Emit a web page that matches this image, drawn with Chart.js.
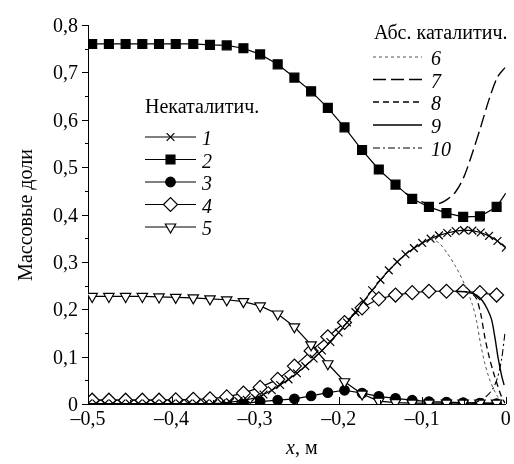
<!DOCTYPE html>
<html lang="ru">
<head>
<meta charset="utf-8">
<script src="https://cdn.jsdelivr.net/npm/chart.js@4/dist/chart.umd.min.js"></script>
<style>
  html, body { margin: 0; padding: 0; background: #fff; }
  #wrap { position: relative; width: 514px; height: 464px; overflow: hidden; }
  #chart { position: absolute; left: 0; top: 0; display: block; }
  #labels { position: absolute; left: 0; top: 0; width: 514px; height: 464px; pointer-events: none; }
  .lbl { position: absolute; font-family: 'Liberation Serif', 'Times New Roman', Times, 'DejaVu Serif', serif;
         font-size: 20px; line-height: 20px; white-space: nowrap; color: #000; }
  .lbl i { font-style: italic; }
</style>
</head>
<body>
<div id="wrap">
  <canvas id="chart" width="514" height="464"></canvas>
  <div id="labels"></div>
</div>
<script>
// ---- data ----
// marker positions shared by series 2..5
const xMarks = [-0.495, -0.475, -0.455, -0.435, -0.415, -0.395, -0.374, -0.354, -0.334, -0.314,
  -0.294, -0.273, -0.253, -0.233, -0.213, -0.193, -0.172, -0.152, -0.132, -0.112,
  -0.092, -0.071, -0.051, -0.031, -0.011];

// series 1 (crosses) has a denser set of markers
const x1 = [-0.50, -0.49, -0.48, -0.47, -0.46, -0.45, -0.44, -0.43, -0.42, -0.41,
  -0.40, -0.39, -0.38, -0.37, -0.36, -0.35, -0.34, -0.33, -0.32, -0.31,
  -0.30, -0.29, -0.28, -0.27, -0.26, -0.25, -0.24, -0.23, -0.22, -0.21,
  -0.20, -0.19, -0.18, -0.17, -0.16, -0.15, -0.14, -0.13, -0.12, -0.11,
  -0.10, -0.09, -0.08, -0.07, -0.06, -0.05, -0.04, -0.03, -0.02, -0.01, 0];
const s1 = [0.001, 0.001, 0.001, 0.001, 0.001, 0.001, 0.001, 0.001, 0.001, 0.001,
  0.001, 0.001, 0.001, 0.001, 0.001, 0.001, 0.002, 0.004, 0.006, 0.009,
  0.013, 0.020, 0.029, 0.040, 0.052, 0.065, 0.080, 0.096, 0.113, 0.131,
  0.151, 0.172, 0.194, 0.217, 0.240, 0.262, 0.282, 0.300, 0.316, 0.329,
  0.340, 0.349, 0.356, 0.361, 0.365, 0.367, 0.366, 0.362, 0.355, 0.344, 0.330];

const s2 = [0.760, 0.760, 0.760, 0.760, 0.760, 0.760, 0.760, 0.758, 0.757, 0.751,
  0.738, 0.717, 0.689, 0.660, 0.625, 0.584, 0.536, 0.495, 0.463, 0.433,
  0.416, 0.403, 0.395, 0.396, 0.416];
const s2TailX = [-0.011, 0];
const s2TailY = [0.416, 0.445];

const s3 = [0.001, 0.001, 0.001, 0.001, 0.001, 0.001, 0.001, 0.001, 0.001, 0.001,
  0.005, 0.008, 0.011, 0.017, 0.024, 0.029, 0.023, 0.016, 0.012, 0.008,
  0.005, 0.004, 0.003, 0.002, 0.001];

const s4 = [0.008, 0.008, 0.008, 0.008, 0.008, 0.009, 0.010, 0.011, 0.015, 0.023,
  0.035, 0.052, 0.080, 0.112, 0.142, 0.172, 0.203, 0.222, 0.230, 0.235,
  0.238, 0.238, 0.238, 0.235, 0.230];

const s5 = [0.227, 0.227, 0.227, 0.227, 0.226, 0.225, 0.224, 0.222, 0.220, 0.216,
  0.207, 0.190, 0.163, 0.125, 0.085, 0.047, 0.021, 0.006, 0.003, 0.002,
  0.002, 0.002, 0.002, 0.002, 0.002];

// catalytic wall curves
const x6 = [-0.09, -0.08, -0.07, -0.06, -0.05, -0.04, -0.035, -0.03, -0.025, -0.02, -0.015, -0.01, -0.005, -0.001];
const s6 = [0.349, 0.340, 0.318, 0.290, 0.255, 0.210, 0.175, 0.125, 0.085, 0.055, 0.033, 0.016, 0.005, 0.0];

const x7 = [-0.12, -0.105, -0.09, -0.08, -0.07, -0.06, -0.05, -0.04, -0.03, -0.02, -0.01, -0.001];
const s7 = [0.445, 0.430, 0.422, 0.423, 0.432, 0.448, 0.480, 0.530, 0.585, 0.643, 0.690, 0.710];

const x8 = [-0.05, -0.04, -0.035, -0.03, -0.025, -0.02, -0.015, -0.01, -0.005, -0.001];
const s8 = [0.238, 0.232, 0.222, 0.190, 0.140, 0.100, 0.068, 0.040, 0.015, 0.002];

const x9 = [-0.06, -0.045, -0.035, -0.028, -0.022, -0.017, -0.013, -0.009, -0.005, -0.002];
const s9 = [0.238, 0.236, 0.230, 0.218, 0.200, 0.178, 0.140, 0.095, 0.060, 0.040];

const x10 = [-0.04, -0.035, -0.03, -0.025, -0.02, -0.015, -0.01, -0.005, -0.001];
const s10 = [0.002, 0.004, 0.008, 0.014, 0.022, 0.034, 0.055, 0.095, 0.150];

// axes
const xTickValues = [-0.5, -0.4, -0.3, -0.2, -0.1, 0];
const xMinorValues = [-0.45, -0.35, -0.25, -0.15, -0.05];
const yTickValues = [0, 0.1, 0.2, 0.3, 0.4, 0.5, 0.6, 0.7, 0.8];
const yMinorValues = [0.05, 0.15, 0.25, 0.35, 0.45, 0.55, 0.65, 0.75];

const legendLeftTitle = "Некаталитич.";
const legendLeftLabels = ["1", "2", "3", "4", "5"];
const legendRightTitle = "Абс. каталитич.";
const legendRightLabels = ["6", "7", "8", "9", "10"];

const W = 514;

function pts(xs, ys) {
  return xs.map((x, i) => ({ x: x, y: ys[i] }));
}

function fmt(v) {
  if (Math.abs(v) < 1e-9) return "0";
  return (v < 0 ? "\u2013" : "") + Math.abs(v).toFixed(1).replace(".", ",");
}

// marker styles for the five non-catalytic series
const markerStyles = [
  { pointStyle: "crossRot", radius: 5.5, fill: "#000" },
  { pointStyle: "rect", radius: 6.3, fill: "#000" },
  { pointStyle: "circle", radius: 4.8, fill: "#000" },
  { pointStyle: "rectRot", radius: 7, fill: "#fff" },
  { pointStyle: "triangle", radius: 6, fill: "#fff", rotation: 180 }
];
const dashStyles = [
  { dash: [3, 3], width: 1, color: "#555" },
  { dash: [13, 5], width: 1.4, color: "#000" },
  { dash: [6, 4], width: 1.3, color: "#000" },
  { dash: [], width: 1.4, color: "#000" },
  { dash: [7, 3, 2, 3], width: 1.1, color: "#000" }
];

function markerSet(data, m) {
  return {
    data: data,
    borderColor: "#000",
    borderWidth: 1.2,
    pointStyle: m.pointStyle,
    pointRadius: m.radius,
    pointRotation: m.rotation || 0,
    pointBackgroundColor: m.fill,
    pointBorderColor: "#000",
    pointBorderWidth: 1.2,
    tension: 0
  };
}
function dashSet(data, d) {
  return {
    data: data,
    borderColor: d.color,
    borderWidth: d.width,
    borderDash: d.dash,
    pointRadius: 0,
    tension: 0.3
  };
}

const datasets = [
  dashSet(pts(x6, s6), dashStyles[0]),
  dashSet(pts(x7, s7), dashStyles[1]),
  dashSet(pts(x8, s8), dashStyles[2]),
  dashSet(pts(x9, s9), dashStyles[3]),
  dashSet(pts(x10, s10), dashStyles[4]),
  markerSet(pts(xMarks, s2), markerStyles[1]),
  { data: pts(s2TailX, s2TailY), borderColor: "#000", borderWidth: 1.2, pointRadius: 0 },
  markerSet(pts(x1, s1), markerStyles[0]),
  markerSet(pts(xMarks, s5), markerStyles[4]),
  markerSet(pts(xMarks, s4), markerStyles[3]),
  markerSet(pts(xMarks, s3), markerStyles[2])
];

// text goes into html labels over the canvas
const labelsEl = document.getElementById("labels");
function addLabel(html, x, cy, align) {
  const d = document.createElement("div");
  d.className = "lbl";
  d.innerHTML = html;
  d.style.top = (cy - 10) + "px";
  if (align === "right") {
    d.style.right = (W - x) + "px";
  } else if (align === "center") {
    d.style.left = x + "px";
    d.style.transform = "translateX(-50%)";
  } else {
    d.style.left = x + "px";
  }
  labelsEl.appendChild(d);
  return d;
}

let labelsDone = false;
const overlay = {
  id: "overlay",
  afterDraw(chart) {
    const ctx = chart.ctx;
    const a = chart.chartArea;
    const xs = chart.scales.x;
    const ys = chart.scales.y;
    ctx.save();
    ctx.strokeStyle = "#000";
    ctx.fillStyle = "#000";
    ctx.lineWidth = 1;

    // tick marks: y outward, x inward
    ctx.beginPath();
    yTickValues.forEach(v => { const p = Math.round(ys.getPixelForValue(v)) + 0.5; ctx.moveTo(a.left - 6, p); ctx.lineTo(a.left, p); });
    yMinorValues.forEach(v => { const p = Math.round(ys.getPixelForValue(v)) + 0.5; ctx.moveTo(a.left - 3, p); ctx.lineTo(a.left, p); });
    xTickValues.forEach(v => { const p = Math.round(xs.getPixelForValue(v)) + 0.5; ctx.moveTo(p, a.bottom); ctx.lineTo(p, a.bottom - 7); });
    xMinorValues.forEach(v => { const p = Math.round(xs.getPixelForValue(v)) + 0.5; ctx.moveTo(p, a.bottom); ctx.lineTo(p, a.bottom - 4); });
    ctx.stroke();

    // legend samples
    const leftRows = [137, 159.5, 182, 204.5, 227];
    leftRows.forEach((y, i) => {
      ctx.setLineDash([]);
      ctx.lineWidth = 1.2;
      ctx.strokeStyle = "#000";
      ctx.beginPath();
      ctx.moveTo(145, y);
      ctx.lineTo(196, y);
      ctx.stroke();
      const m = markerStyles[i];
      ctx.fillStyle = m.fill;
      Chart.helpers.drawPoint(ctx, { pointStyle: m.pointStyle, radius: m.radius, rotation: m.rotation || 0, borderWidth: 1.2 }, 170.5, y);
    });
    const rightRows = [57, 79.5, 102, 125, 148];
    rightRows.forEach((y, i) => {
      const d = dashStyles[i];
      ctx.setLineDash(d.dash);
      ctx.lineWidth = d.width;
      ctx.strokeStyle = d.color;
      ctx.beginPath();
      ctx.moveTo(373, y);
      ctx.lineTo(422, y);
      ctx.stroke();
    });
    ctx.restore();

    if (labelsDone) return;
    labelsDone = true;
    labelsEl.innerHTML = "";

    // tick labels
    yTickValues.forEach(v => addLabel(fmt(v), a.left - 10, ys.getPixelForValue(v), "right"));
    xTickValues.forEach(v => addLabel(fmt(v), xs.getPixelForValue(v), a.bottom + 14, "center"));

    // axis titles
    const yt = document.createElement("div");
    yt.className = "lbl";
    yt.textContent = "Массовые доли";
    yt.style.left = "25px";
    yt.style.top = ((a.top + a.bottom) / 2) + "px";
    yt.style.transform = "translate(-50%, -50%) rotate(-90deg)";
    labelsEl.appendChild(yt);
    addLabel("<i>x</i>, м", (a.left + a.right) / 2 + 5, 447, "center");

    // legends
    addLabel(legendLeftTitle, 145, 106, "left");
    leftRows.forEach((y, i) => addLabel("<i>" + legendLeftLabels[i] + "</i>", 202, y + 1, "left"));
    addLabel(legendRightTitle, 374, 32, "left");
    rightRows.forEach((y, i) => addLabel("<i>" + legendRightLabels[i] + "</i>", 431, y + 1, "left"));
  }
};

new Chart(document.getElementById("chart"), {
  type: "line",
  data: { datasets: datasets },
  options: {
    responsive: false,
    animation: false,
    layout: { padding: { top: 25, right: 7, left: 0, bottom: 0 } },
    plugins: { legend: { display: false }, tooltip: { enabled: false } },
    scales: {
      x: {
        type: "linear",
        min: -0.5,
        max: 0,
        grid: { display: false },
        border: { display: true, color: "#000", width: 1 },
        afterBuildTicks: s => { s.ticks = xTickValues.map(v => ({ value: v })); },
        afterFit: s => { s.height = 60; },
        ticks: { display: false }
      },
      y: {
        min: 0,
        max: 0.8,
        grid: { display: false },
        border: { display: true, color: "#000", width: 1 },
        afterBuildTicks: s => { s.ticks = yTickValues.map(v => ({ value: v })); },
        afterFit: s => { s.width = 88; },
        ticks: { display: false }
      }
    }
  },
  plugins: [overlay]
});
</script>
</body>
</html>
